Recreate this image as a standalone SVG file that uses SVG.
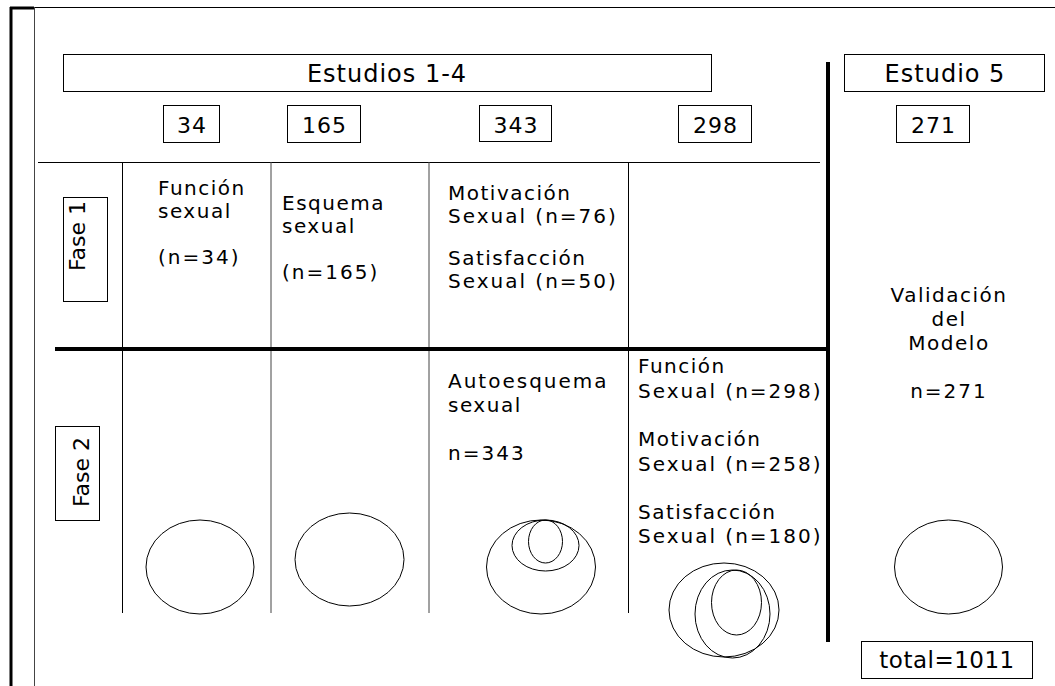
<svg xmlns="http://www.w3.org/2000/svg" width="1055" height="686" viewBox="0 0 1055 686">
<style>
  .box{fill:#fff;stroke:#000;stroke-width:1}
  .thin{stroke:#000;stroke-width:1;fill:none}
  .grey{stroke:#444;stroke-width:1;fill:none}
  .thick{stroke:#000;stroke-width:4;fill:none}
  .ell{fill:none;stroke:#000;stroke-width:1}
  text{font-family:"DejaVu Sans","Verdana",sans-serif;fill:#000}
  .hdr{font-size:24px;letter-spacing:1px}
  .num{font-size:22px;letter-spacing:1px}
  .lbl{font-size:20px;letter-spacing:1.5px}
  .lblw{font-size:20px;letter-spacing:2px}
  .fase{font-size:22px}
</style>
<rect width="1055" height="686" fill="#fff"/>
<g id="frame">
  <line class="thin" x1="10" y1="7.5" x2="1055" y2="7.5"/>
  <line x1="10" y1="8" x2="34" y2="8" stroke="#000" stroke-width="3"/>
  <line x1="11" y1="7" x2="11" y2="686" stroke="#000" stroke-width="3"/>
  <line class="grey" x1="34.5" y1="7" x2="34.5" y2="686"/>
</g>
<g id="connectors">
  <line class="thin" x1="38" y1="162.5" x2="820" y2="162.5"/>
  <line class="thin" x1="122.5" y1="162" x2="122.5" y2="613"/>
  <line class="grey" x1="271" y1="162" x2="271" y2="613"/>
  <line class="grey" x1="429" y1="162" x2="429" y2="613"/>
  <line class="thin" x1="628.5" y1="162" x2="628.5" y2="613"/>
  <line class="thick" x1="55" y1="349" x2="828" y2="349"/>
  <line class="thick" x1="828" y1="62" x2="828" y2="642"/>
</g>
<g id="estudios14">
  <rect class="box" x="63.5" y="54.5" width="648" height="37"/>
  <text class="hdr" x="387" y="82" text-anchor="middle">Estudios 1-4</text>
</g>
<g id="estudio5">
  <rect class="box" x="844.5" y="54.5" width="200" height="37"/>
  <text class="hdr" x="945" y="82" text-anchor="middle">Estudio 5</text>
</g>
<g id="n34">
  <rect class="box" x="163.5" y="105.5" width="56" height="37"/>
  <text class="num" x="192" y="133" text-anchor="middle">34</text>
</g>
<g id="n165">
  <rect class="box" x="287.5" y="105.5" width="73" height="37"/>
  <text class="num" x="324.5" y="133" text-anchor="middle">165</text>
</g>
<g id="n343">
  <rect class="box" x="479.5" y="105.5" width="72" height="36"/>
  <text class="num" x="516" y="133" text-anchor="middle">343</text>
</g>
<g id="n298">
  <rect class="box" x="678.5" y="105.5" width="73" height="37"/>
  <text class="num" x="715.5" y="133" text-anchor="middle">298</text>
</g>
<g id="n271">
  <rect class="box" x="896.5" y="105.5" width="73" height="37"/>
  <text class="num" x="933.5" y="133" text-anchor="middle">271</text>
</g>
<g id="fase1">
  <rect class="box" x="63.5" y="197.5" width="44" height="104"/>
  <text class="fase" transform="translate(85,236) rotate(-90)" text-anchor="middle">Fase 1</text>
</g>
<g id="fase2">
  <rect class="box" x="55.5" y="426.5" width="44" height="94"/>
  <text class="fase" transform="translate(89,472) rotate(-90)" text-anchor="middle">Fase 2</text>
</g>
<g id="c1f1">
  <text class="lbl" x="158" y="195">Función</text>
  <text class="lbl" x="158" y="218">sexual</text>
  <text class="lblw" x="158" y="264">(n=34)</text>
</g>
<g id="c2f1">
  <text class="lbl" x="282" y="210">Esquema</text>
  <text class="lbl" x="282" y="233">sexual</text>
  <text class="lblw" x="282" y="279">(n=165)</text>
</g>
<g id="c3f1">
  <text class="lbl" x="448" y="200">Motivación</text>
  <text class="lblw" x="448" y="223">Sexual (n=76)</text>
  <text class="lbl" x="448" y="265">Satisfacción</text>
  <text class="lblw" x="448" y="288">Sexual (n=50)</text>
</g>
<g id="c3f2">
  <text class="lblw" x="448" y="388">Autoesquema</text>
  <text class="lbl" x="448" y="412">sexual</text>
  <text class="lblw" x="448" y="460">n=343</text>
  <ellipse class="ell" cx="541" cy="567" rx="54.5" ry="47"/>
  <ellipse class="ell" cx="545.5" cy="545.5" rx="33.5" ry="25.5"/>
  <ellipse class="ell" cx="545.5" cy="541.5" rx="17" ry="21.5"/>
</g>
<g id="c4f2">
  <text class="lbl" x="638" y="373">Función</text>
  <text class="lblw" x="638" y="398">Sexual (n=298)</text>
  <text class="lbl" x="638" y="446">Motivación</text>
  <text class="lblw" x="638" y="471">Sexual (n=258)</text>
  <text class="lbl" x="638" y="519">Satisfacción</text>
  <text class="lblw" x="638" y="543">Sexual (n=180)</text>
  <ellipse class="ell" cx="724" cy="610" rx="55" ry="47"/>
  <ellipse class="ell" cx="732.5" cy="614" rx="37.5" ry="44"/>
  <ellipse class="ell" cx="736.5" cy="602.5" rx="25" ry="32.5"/>
</g>
<g id="c1f2">
  <ellipse class="ell" cx="200" cy="567" rx="54" ry="47"/>
</g>
<g id="c2f2">
  <ellipse class="ell" cx="349.5" cy="559.5" rx="54.5" ry="46.5"/>
</g>
<g id="c5">
  <text class="lbl" x="949" y="302" text-anchor="middle">Validación</text>
  <text class="lbl" x="949" y="326" text-anchor="middle">del</text>
  <text class="lbl" x="949" y="350" text-anchor="middle">Modelo</text>
  <text class="lblw" x="949" y="398" text-anchor="middle">n=271</text>
  <ellipse class="ell" cx="948.5" cy="567" rx="54" ry="47"/>
</g>
<g id="total">
  <rect class="box" x="861.5" y="641.5" width="171" height="37"/>
  <text class="num" x="947" y="668" text-anchor="middle" style="font-size:23px;letter-spacing:0.5px">total=1011</text>
</g>
</svg>
